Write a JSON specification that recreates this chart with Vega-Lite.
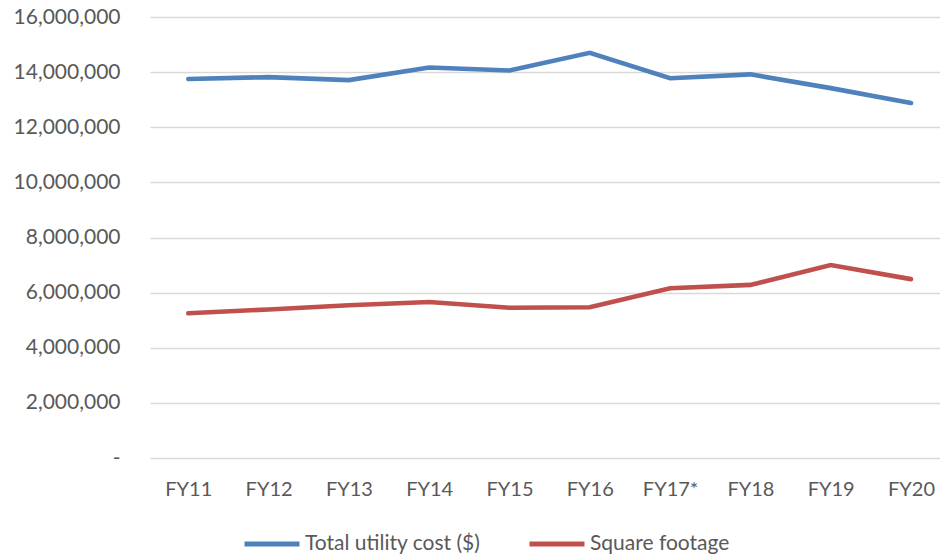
{
  "$schema": "https://vega.github.io/schema/vega-lite/v6.json",
  "width": 790,
  "height": 441,
  "autosize": {"type": "none"},
  "padding": {"left": 150, "top": 17, "right": 0, "bottom": 98},
  "background": "white",
  "config": {
    "view": {"stroke": null},
    "font": "Lato",
    "axis": {"labelFont": "Lato", "labelColor": "#595959", "labelFontSize": 20},
    "legend": {"labelFont": "Lato", "labelColor": "#595959", "labelFontSize": 21, "labelLimit": 400}
  },
  "data": {
    "values": [
      {"fy": "FY11", "series": "Total utility cost ($)", "value": 13750000},
      {"fy": "FY12", "series": "Total utility cost ($)", "value": 13820000},
      {"fy": "FY13", "series": "Total utility cost ($)", "value": 13710000},
      {"fy": "FY14", "series": "Total utility cost ($)", "value": 14170000},
      {"fy": "FY15", "series": "Total utility cost ($)", "value": 14060000},
      {"fy": "FY16", "series": "Total utility cost ($)", "value": 14700000},
      {"fy": "FY17*", "series": "Total utility cost ($)", "value": 13780000},
      {"fy": "FY18", "series": "Total utility cost ($)", "value": 13920000},
      {"fy": "FY19", "series": "Total utility cost ($)", "value": 13420000},
      {"fy": "FY20", "series": "Total utility cost ($)", "value": 12880000},
      {"fy": "FY11", "series": "Square footage", "value": 5250000},
      {"fy": "FY12", "series": "Square footage", "value": 5390000},
      {"fy": "FY13", "series": "Square footage", "value": 5540000},
      {"fy": "FY14", "series": "Square footage", "value": 5660000},
      {"fy": "FY15", "series": "Square footage", "value": 5450000},
      {"fy": "FY16", "series": "Square footage", "value": 5470000},
      {"fy": "FY17*", "series": "Square footage", "value": 6160000},
      {"fy": "FY18", "series": "Square footage", "value": 6280000},
      {"fy": "FY19", "series": "Square footage", "value": 7000000},
      {"fy": "FY20", "series": "Square footage", "value": 6490000}
    ]
  },
  "mark": {"type": "line", "strokeWidth": 4.6, "strokeCap": "round", "strokeJoin": "miter", "clip": false},
  "encoding": {
    "x": {
      "field": "fy",
      "type": "nominal",
      "sort": null,
      "scale": {"type": "point", "padding": 0.419, "align": 0.569},
      "axis": {
        "title": null,
        "domain": false,
        "ticks": false,
        "grid": false,
        "labelAngle": 0,
        "labelPadding": 21
      }
    },
    "y": {
      "field": "value",
      "type": "quantitative",
      "scale": {"domain": [0, 16000000], "nice": false},
      "axis": {
        "title": null,
        "values": [0, 2000000, 4000000, 6000000, 8000000, 10000000, 12000000, 14000000, 16000000],
        "labelExpr": "datum.value === 0 ? '-\u00a0\u00a0\u00a0' : format(datum.value, ',')",
        "domain": false,
        "ticks": false,
        "grid": true,
        "gridColor": "#D9D9D9",
        "gridWidth": 1.3,
        "labelPadding": 30,
        "labelFontSize": 21
      }
    },
    "color": {
      "field": "series",
      "type": "nominal",
      "sort": null,
      "scale": {"domain": ["Total utility cost ($)", "Square footage"], "range": ["#4F81BD", "#C0504D"]},
      "legend": {
        "title": null,
        "orient": "none",
        "direction": "horizontal",
        "legendX": 92,
        "legendY": 497,
        "padding": 0,
        "symbolType": "stroke",
        "symbolSize": 3025,
        "symbolStrokeWidth": 5,
        "labelOffset": 3,
        "columnPadding": 38
      }
    }
  }
}
